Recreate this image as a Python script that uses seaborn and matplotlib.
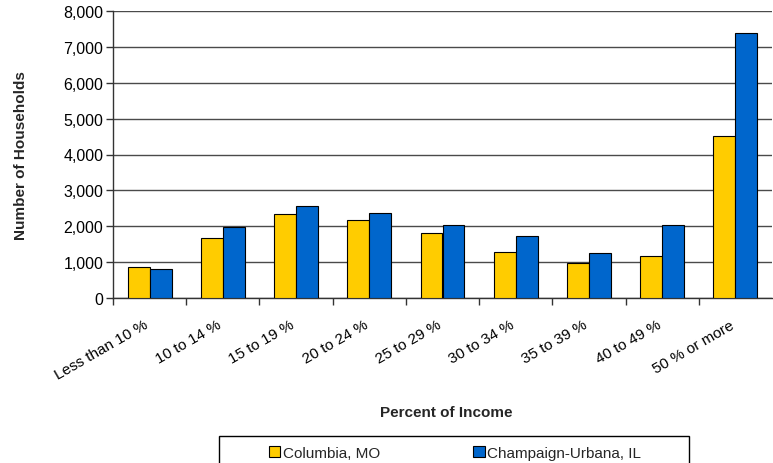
import matplotlib
matplotlib.use("Agg")
import matplotlib.pyplot as plt
import matplotlib.transforms as mtransforms
import seaborn as sns
import pandas as pd
from matplotlib.ticker import FuncFormatter, FixedLocator
from matplotlib.patches import Rectangle

categories = ["Less than 10 %", "10 to 14 %", "15 to 19 %", "20 to 24 %",
              "25 to 29 %", "30 to 34 %", "35 to 39 %", "40 to 49 %",
              "50 % or more"]
columbia = [870, 1670, 2340, 2170, 1810, 1270, 975, 1160, 4520]
champaign = [810, 1970, 2565, 2370, 2035, 1730, 1255, 2035, 7390]
series_names = ["Columbia, MO", "Champaign-Urbana, IL"]
colors = ["#FFCC00", "#0066CC"]

df = pd.DataFrame({
    "category": categories * 2,
    "households": columbia + champaign,
    "series": [series_names[0]] * len(categories) + [series_names[1]] * len(categories),
})

sns.set_theme(style="white")
plt.rcParams["font.family"] = ["Liberation Sans", "DejaVu Sans"]

W, H = 773, 464
fig = plt.figure(figsize=(W / 100, H / 100), dpi=100)
ax = fig.add_axes([113 / W, 1 - 299 / H, 659 / W, 287 / H])

sns.barplot(data=df, x="category", y="households", hue="series",
            order=categories, hue_order=series_names, palette=colors,
            width=0.6, edgecolor="black", linewidth=0.8, saturation=1,
            ax=ax, zorder=3)

ax.set_ylim(0, 8000)
ax.set_xlim(-0.5, len(categories) - 0.5)
ax.set_yticks(range(0, 8001, 1000))
ax.yaxis.set_major_formatter(FuncFormatter(lambda v, p: f"{int(v):,}"))
ax.grid(axis="y", color="#4a4a4a", linewidth=1, zorder=0)
ax.set_axisbelow(True)

for side in ["top", "right"]:
    ax.spines[side].set_visible(False)
for side in ["left", "bottom"]:
    ax.spines[side].set_color("#333333")
    ax.spines[side].set_linewidth(1)

ax.tick_params(axis="y", left=True, length=5, width=1, color="#333333",
               labelsize=11.5, pad=2)
ax.tick_params(axis="x", which="major", length=0, labelsize=11, pad=14)
ax.xaxis.set_minor_locator(FixedLocator([i + 0.5 for i in range(-1, len(categories) - 1)]))
ax.tick_params(axis="x", which="minor", bottom=True, length=5, width=1, color="#333333")
shift = mtransforms.ScaledTranslation(-6 / 100, 0, fig.dpi_scale_trans)
for lbl in ax.get_xticklabels():
    lbl.set_rotation(30)
    lbl.set_ha("right")
    lbl.set_rotation_mode("anchor")
    lbl.set_transform(lbl.get_transform() + shift)
for lbl in ax.get_yticklabels() + ax.get_xticklabels():
    lbl.set_color("black")

ax.set_xlabel("Percent of Income", fontsize=11, fontweight="bold")
ax.set_ylabel("Number of Households", fontsize=11, fontweight="bold")
ax.xaxis.set_label_coords(0.505, -(406 - 299) / 287)
ax.yaxis.set_label_coords(-(113 - 28) / 659, 0.5)

handles, labels = ax.get_legend_handles_labels()
if ax.get_legend() is not None:
    ax.get_legend().remove()

# legend box spanning beyond the lower figure edge
fig.patches.append(Rectangle((219 / W, 1 - 472 / H), 470 / W, 35 / H,
                             transform=fig.transFigure, facecolor="white",
                             edgecolor="black", linewidth=1, zorder=1))
leg = fig.legend(handles, labels, loc="center", bbox_to_anchor=(455 / W, 1 - 454 / H),
                 ncol=2, frameon=False, fontsize=11,
                 handlelength=0.75, handleheight=0.75, handletextpad=0.15,
                 columnspacing=6.1, borderpad=0.2)
leg.set_zorder(2)
for h in leg.legend_handles:
    h.set_edgecolor("black")
    h.set_linewidth(0.8)

fig.savefig("out.png", dpi=100)
